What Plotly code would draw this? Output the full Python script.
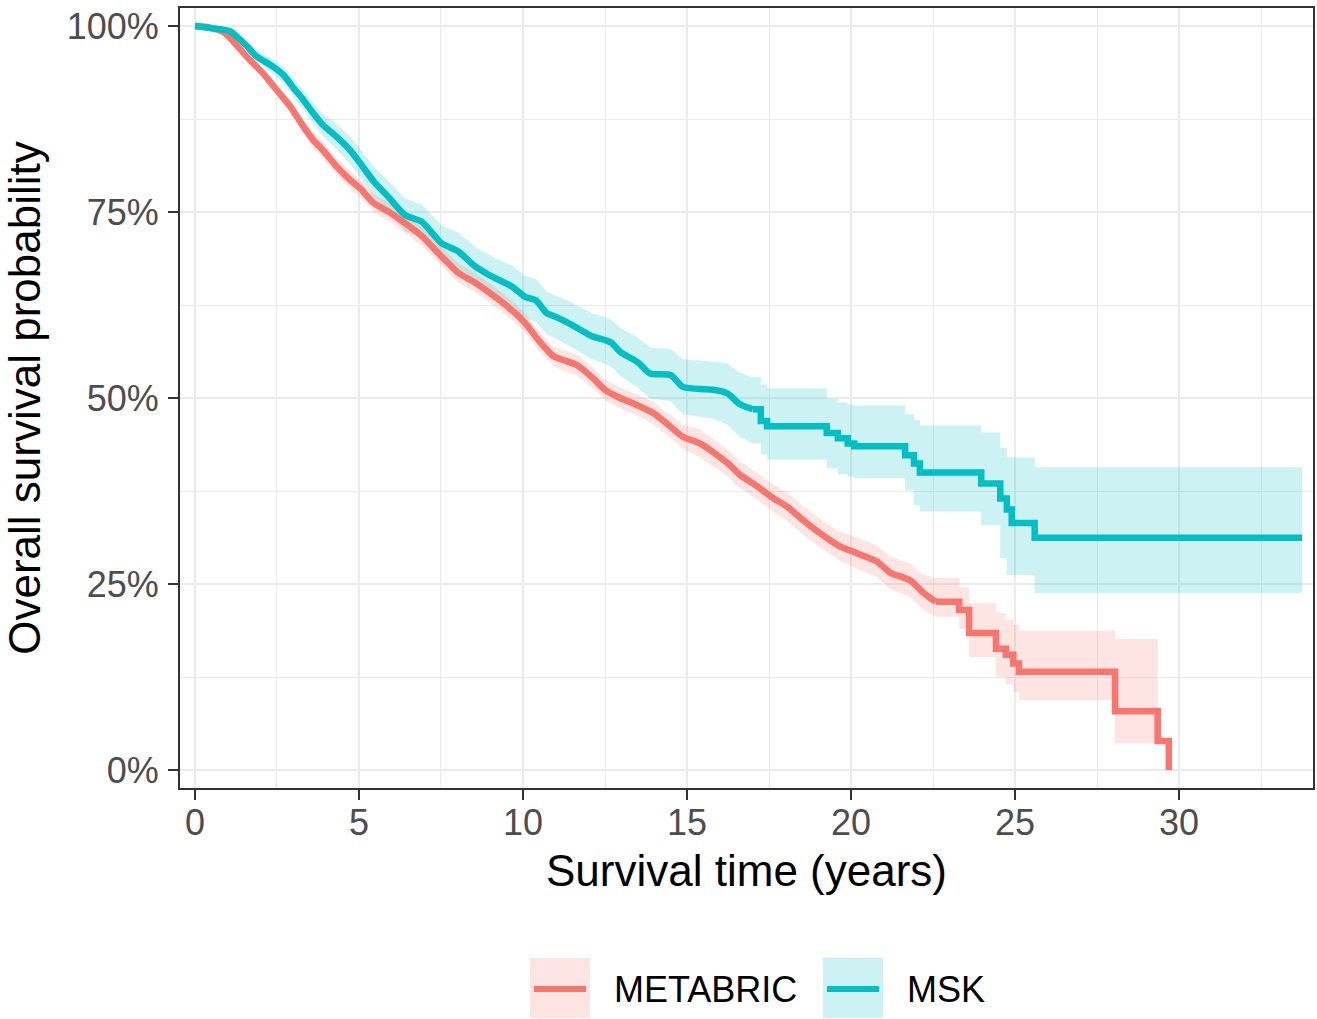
import plotly.graph_objects as go

# ---------------- data ----------------
groups = ["METABRIC", "MSK"]

metabric_time = [0, 0.3, 0.86, 1.17, 1.68, 2.08, 2.49, 2.9, 3.3, 3.6, 3.9, 4.32, 4.73, 5.03, 5.45,
                 5.88, 6.4, 6.91, 7.52, 8.03, 8.54, 9.15, 9.66, 10.06, 10.5, 10.93, 11.3, 11.65,
                 12.1, 12.5, 12.96, 13.5, 13.97, 14.4, 14.87, 15.39, 15.99, 16.3, 16.6, 17.09,
                 17.57, 18.05, 18.53, 19.0, 19.6, 20.2, 20.8, 21.2, 21.8, 22.16, 22.58,
                 23.3, 23.6, 24.42, 24.72, 24.95, 25.12, 28.05, 29.35, 29.69]
metabric_surv = [100, 99.9, 99.2, 97.9, 95.4, 93.6, 91.4, 89.2, 86.5, 84.7, 83.3, 81.1, 79.3, 78.2,
                 76.2, 75.1, 73.5, 71.8, 69.0, 66.8, 65.5, 63.6, 61.8, 60.1, 57.6, 55.6, 55.0, 54.4,
                 52.8, 51.1, 50.0, 49.0, 48.0, 46.5, 44.8, 43.9, 42.1, 41.0, 39.7, 38.3, 36.7, 35.4,
                 33.6, 32.0, 30.2, 29.1, 28.0, 26.5, 25.5, 24.0, 22.6,
                 21.5, 18.4, 16.3, 15.5, 14.3, 13.2, 7.9, 3.9, 0.0]
# confidence band (it ends where the last interval ends)
metabric_lower = [100, 99.7, 98.9, 97.5, 94.9, 93.0, 90.7, 88.4, 85.6, 83.7, 82.2, 80.0, 78.1, 77.0,
                  75.0, 73.9, 72.2, 70.5, 67.7, 65.5, 64.2, 62.3, 60.5, 58.8, 56.3, 54.3, 53.6, 53.0,
                  51.4, 49.7, 48.6, 47.6, 46.5, 45.0, 43.2, 42.0, 40.3, 39.2, 37.9, 36.5, 34.9, 33.5,
                  31.7, 30.1, 28.3, 27.0, 25.9, 24.3, 23.3, 21.7, 20.6,
                  19.0, 15.2, 12.5, 11.5, 10.5, 9.4, 3.6, 3.9]
metabric_upper = [100, 100, 99.5, 98.3, 95.9, 94.2, 92.1, 90.0, 87.4, 85.7, 84.4, 82.2, 80.5, 79.4,
                  77.4, 76.3, 74.8, 73.1, 70.3, 68.1, 66.8, 64.9, 63.1, 61.4, 58.9, 56.9, 56.4, 55.8,
                  54.2, 52.5, 51.4, 50.4, 49.5, 48.0, 46.4, 45.8, 43.9, 42.8, 41.5, 40.1, 38.5, 37.3,
                  35.5, 33.9, 32.1, 31.2, 30.1, 28.7, 27.7, 26.3, 25.8,
                  24.5, 22.4, 21.1, 20.2, 19.5, 18.7, 17.6, 3.9]
metabric_smooth_until = 22.58   # before this the many small steps read as a smooth curve

msk_time = [0, 0.86, 1.07, 1.37, 1.6, 1.88, 2.29, 2.7, 3.0, 3.3, 3.6, 3.9, 4.32, 4.73, 5.03, 5.45,
            5.88, 6.4, 6.91, 7.52, 8.03, 8.54, 9.15, 9.66, 10.06, 10.4, 10.72, 11.0, 11.5, 12.1,
            12.5, 12.7, 12.96, 13.5, 13.87, 14.5, 14.87, 15.4, 15.8, 16.24, 16.6, 17.0,
            17.25, 17.44, 19.26, 19.6, 19.9, 20.1, 21.65, 21.92, 22.1, 23.97, 24.55, 24.75, 24.9,
            25.6, 33.75]
msk_surv = [100, 99.5, 99.3, 98.2, 97.2, 95.9, 94.8, 93.4, 91.7, 90.1, 88.3, 86.7, 85.1, 83.3, 81.6,
            79.1, 77.1, 74.6, 73.7, 70.8, 69.7, 67.7, 66.1, 65.0, 63.6, 63.1, 61.4, 60.9, 59.8, 58.3,
            57.8, 57.4, 56.2, 54.8, 53.3, 53.1, 51.5, 51.2, 51.1, 50.6, 49.2, 48.5,
            46.9, 46.2, 45.3, 44.6, 43.9, 43.5, 42.3, 41.2, 40.0, 38.5, 36.5, 35.0, 33.2,
            31.2, 31.2]
msk_lower = [100, 99.2, 98.9, 97.7, 96.6, 95.1, 93.9, 92.3, 90.5, 88.8, 86.9, 85.2, 83.4, 81.5, 79.7,
             77.1, 75.0, 72.4, 71.4, 68.4, 67.2, 65.1, 63.4, 62.2, 60.8, 60.2, 58.6, 58.0, 56.8, 55.2,
             54.6, 54.2, 53.0, 51.4, 49.9, 49.6, 47.8, 47.4, 47.2, 46.4, 44.8, 43.9,
             42.4, 41.7, 40.6, 39.8, 39.4, 39.2, 37.6, 35.6, 34.7, 32.9, 28.5, 26.2, 26.2,
             23.8, 23.8]
msk_upper = [100, 99.8, 99.7, 98.7, 97.8, 96.7, 95.7, 94.5, 92.9, 91.4, 89.7, 88.2, 86.8, 85.1, 83.5,
             81.1, 79.2, 76.8, 76.0, 73.2, 72.2, 70.3, 68.8, 67.8, 66.4, 66.0, 64.3, 63.8, 62.8, 61.4,
             60.9, 60.5, 59.4, 58.1, 56.8, 56.6, 55.2, 55.0, 54.9, 54.6, 53.4, 52.8,
             51.8, 51.3, 49.9, 49.4, 49.1, 49.0, 47.8, 47.0, 46.3, 45.4, 43.3, 42.0, 42.0,
             40.7, 40.7]
msk_smooth_until = 17.0

x_ticks = [0, 5, 10, 15, 20, 25, 30]
x_minor = [2.5, 7.5, 12.5, 17.5, 22.5, 27.5, 32.5]
y_ticks = [0, 25, 50, 75, 100]
y_tick_labels = ["0%", "25%", "50%", "75%", "100%"]
y_minor = [12.5, 37.5, 62.5, 87.5]

colors = {"METABRIC": "#F8766D", "MSK": "#00BFC4"}
fills = {"METABRIC": "rgba(248,118,109,0.2)", "MSK": "rgba(0,191,196,0.2)"}

series = {
    "METABRIC": (metabric_time, metabric_surv, metabric_lower, metabric_upper, metabric_smooth_until),
    "MSK": (msk_time, msk_surv, msk_lower, msk_upper, msk_smooth_until),
}

FONT = "Liberation Sans, Arial, Helvetica, sans-serif"
W, H = 1317, 1019
ML, MR, MT, MB = 180, 4, 8, 231


def split(t, vals, cut):
    """Part drawn as a smooth curve (dense small steps) and part drawn as visible steps."""
    a = [(ti, v) for ti, v in zip(t, vals) if ti <= cut]
    b = [(ti, v) for ti, v in zip(t, vals) if ti >= cut]
    return ([p[0] for p in a], [p[1] for p in a]), ([p[0] for p in b], [p[1] for p in b])


fig = go.Figure()

# confidence bands
for g in groups:
    t, s, lo, hi, cut = series[g]
    bt = t[:len(lo)]
    (ta, hia), (tb, hib) = split(bt, hi, cut)
    (_, loa), (_, lob) = split(bt, lo, cut)
    for tt, h_, l_, shape in ((ta, hia, loa, "linear"), (tb, hib, lob, "hv")):
        fig.add_trace(go.Scatter(x=tt, y=h_, mode="lines", line=dict(width=0, shape=shape),
                                 hoverinfo="skip", showlegend=False))
        fig.add_trace(go.Scatter(x=tt, y=l_, mode="lines", line=dict(width=0, shape=shape),
                                 fill="tonexty", fillcolor=fills[g], hoverinfo="skip",
                                 showlegend=False))

# survival curves
for g in groups:
    t, s, lo, hi, cut = series[g]
    (ta, sa), (tb, sb) = split(t, s, cut)
    for tt, ss, shape in ((ta, sa, "spline"), (tb, sb, "hv")):
        fig.add_trace(go.Scatter(x=tt, y=ss, mode="lines", name=g,
                                 line=dict(color=colors[g], width=6.5, shape=shape,
                                           smoothing=0.6 if shape == "spline" else None),
                                 showlegend=False))

axis_common = dict(
    showline=True, linecolor="#333333", linewidth=2, mirror=True,
    ticks="outside", ticklen=10, tickwidth=2, tickcolor="#333333",
    tickfont=dict(family=FONT, size=36, color="#4D4D4D"),
    showgrid=True, gridcolor="#EBEBEB", gridwidth=2.4, zeroline=False,
)

fig.update_xaxes(
    range=[-0.457, 34.085], tickvals=x_ticks, ticktext=[str(v) for v in x_ticks],
    ticklabelstandoff=-8,
    minor=dict(tickvals=x_minor, showgrid=True, gridcolor="#EBEBEB", gridwidth=1.2, ticks=""),
    title=dict(text="Survival time (years)", font=dict(family=FONT, size=44, color="black"),
               standoff=13),
    **axis_common,
)
fig.update_yaxes(
    range=[-2.42, 102.42], tickvals=y_ticks, ticktext=y_tick_labels,
    ticklabelstandoff=2,
    minor=dict(tickvals=y_minor, showgrid=True, gridcolor="#EBEBEB", gridwidth=1.2, ticks=""),
    title=dict(text="Overall survival probability", font=dict(family=FONT, size=44, color="black"),
               standoff=12),
    **axis_common,
)

# legend drawn manually (key boxes with fill + line)
pw = W - ML - MR
ph = H - MT - MB


def px_x(p):
    return (p - ML) / pw


def px_y(p):
    return (H - MB - p) / ph


legend_items = [("METABRIC", 530, 612), ("MSK", 823, 905)]
shapes = []
annotations = []
for g, box_x, text_x in legend_items:
    shapes.append(dict(type="rect", xref="paper", yref="paper",
                       x0=px_x(box_x), x1=px_x(box_x + 60), y0=px_y(1018), y1=px_y(958),
                       fillcolor=fills[g], line=dict(width=0), layer="above"))
    shapes.append(dict(type="line", xref="paper", yref="paper",
                       x0=px_x(box_x + 4), x1=px_x(box_x + 56), y0=px_y(989), y1=px_y(989),
                       line=dict(color=colors[g], width=6), layer="above"))
    annotations.append(dict(text=g, xref="paper", yref="paper", x=px_x(text_x), y=px_y(989),
                            xanchor="left", yanchor="middle", showarrow=False,
                            font=dict(family=FONT, size=36, color="black")))

fig.update_layout(
    width=W, height=H,
    margin=dict(l=ML, r=MR, t=MT, b=MB, autoexpand=False),
    paper_bgcolor="white", plot_bgcolor="white",
    showlegend=False,
    shapes=shapes, annotations=annotations,
    font=dict(family=FONT),
)

fig.write_html("out.html", config={"displayModeBar": False},
               post_script="document.body.style.margin='0px';document.body.style.overflow='hidden';")
